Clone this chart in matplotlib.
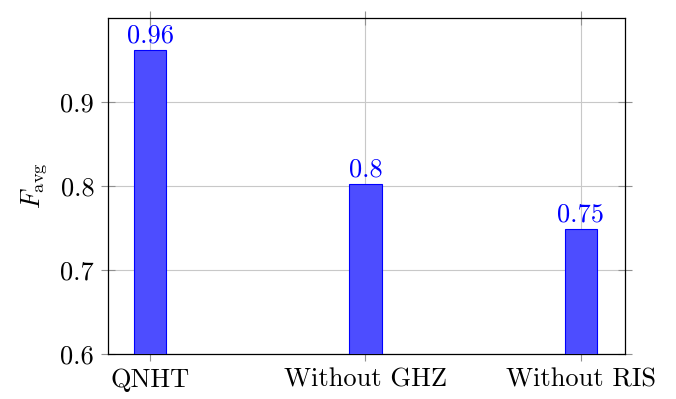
import matplotlib.pyplot as plt
import numpy as np

categories = ["QNHT", "Without GHZ", "Without RIS"]
fidelity = [0.962, 0.802, 0.749]
labels = ["0.96", "0.8", "0.75"]
yticks = [0.6, 0.7, 0.8, 0.9]

plt.rcParams['font.family'] = 'serif'
plt.rcParams['font.serif'] = ['cmr10']
plt.rcParams['mathtext.fontset'] = 'cm'
plt.rcParams['axes.formatter.use_mathtext'] = True

fig = plt.figure(figsize=(6.76, 3.99), dpi=100)
ax = fig.add_axes([0.1598, 0.1128, 0.7648, 0.8421])

x = np.arange(len(categories))
ax.bar(x, fidelity, width=0.15, color=(0.3, 0.3, 1.0), edgecolor='blue', linewidth=0.8, zorder=3)
for xi, v, lab in zip(x, fidelity, labels):
    ax.text(xi, v + 0.003, lab, ha='center', va='bottom', color='blue', fontsize=19)

ax.set_xlim(-0.195, 2.205)
ax.set_ylim(0.6, 1.0)
ax.set_xticks(x)
ax.set_xticklabels(categories, fontsize=19)
ax.set_yticks(yticks)
ax.set_yticklabels([str(t) for t in yticks], fontsize=19)
ax.grid(True, color='#c8c8c8', linewidth=0.8, zorder=0)
ax.tick_params(axis='both', direction='inout', length=10, color='#909090', width=0.8,
               top=True, right=True, pad=5)
ax.set_ylabel(r'$F_{\rm avg}$', fontsize=19, labelpad=8)
for s in ax.spines.values():
    s.set_linewidth(0.9)

fig.savefig('out.png', dpi=100)
